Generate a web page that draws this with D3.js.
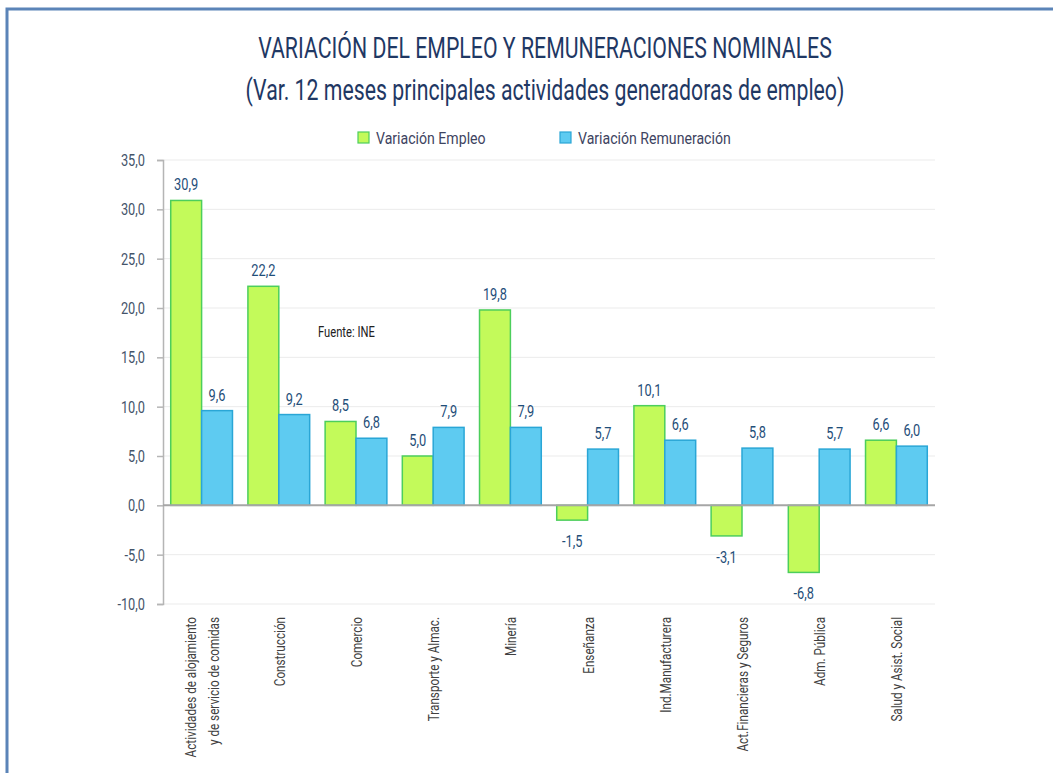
<!DOCTYPE html>
<html>
<head>
<meta charset="utf-8">
<script src="https://cdn.jsdelivr.net/npm/d3@7"></script>
<style>
  body { margin: 0; background: #fff; }
  svg text { font-family: Roboto, "Noto Sans", sans-serif; }
</style>
</head>
<body>
<svg id="chart" width="1053" height="773"></svg>
<script>
// categories and series values
var categories = [
  ["Actividades de alojamiento", "y de servicio de comidas"],
  ["Construcción"],
  ["Comercio"],
  ["Transporte y Almac."],
  ["Minería"],
  ["Enseñanza"],
  ["Ind.Manufacturera"],
  ["Act.Financieras y Seguros"],
  ["Adm. Pública"],
  ["Salud y Asist. Social"]
];
var empleo = [30.9, 22.2, 8.5, 5.0, 19.8, -1.5, 10.1, -3.1, -6.8, 6.6];
var remuneracion = [9.6, 9.2, 6.8, 7.9, 7.9, 5.7, 6.6, 5.8, 5.7, 6.0];
var yTicks = [-10, -5, 0, 5, 10, 15, 20, 25, 30, 35];
var seriesNames = ["Variación Empleo", "Variación Remuneración"];
var titleLines = ["VARIACIÓN DEL EMPLEO Y REMUNERACIONES NOMINALES",
                  "(Var. 12 meses principales actividades generadoras de empleo)"];

var colors = {
  fill: ["#c3fa5a", "#5ecbf1"],
  stroke: ["#4cce5c", "#2aa6d6"]
};

var svg = d3.select("#chart");
var fmt = function(v){ return d3.format(".1f")(v).replace(".", ",").replace("\u2212", "-"); };

// narrow text helper (the source uses a condensed face)
function squeeze(sel, x, y, s, rot){
  sel.attr("transform", "translate(" + x + "," + y + ")" + (rot ? " rotate(" + rot + ")" : "") + " scale(" + s + ",1)");
  return sel;
}

// frame
svg.append("path")
  .attr("d", "M7,773 L7,9 L1053,9")
  .attr("fill", "none")
  .attr("stroke", "#5b84b8")
  .attr("stroke-width", 3);

// title
titleLines.forEach(function(t, i){
  squeeze(svg.append("text"), 545, 58 + i * 42, 0.71)
    .attr("text-anchor", "middle")
    .attr("font-size", 30)
    .attr("fill", "#1f3864")
    .text(t);
});

var margin = {left: 163, right: 935, top: 160, bottom: 604};

var x0 = d3.scaleBand()
  .domain(d3.range(categories.length))
  .range([margin.left, margin.right])
  .paddingInner(0.2)
  .paddingOuter(0.1);
var x1 = d3.scaleBand()
  .domain([0, 1])
  .range([0, x0.bandwidth()]);
var y = d3.scaleLinear()
  .domain([-10, 35])
  .range([margin.bottom, margin.top]);

// gridlines
svg.append("g")
  .selectAll("line")
  .data(yTicks.filter(function(d){ return d !== 0; }))
  .join("line")
  .attr("x1", margin.left)
  .attr("x2", margin.right)
  .attr("y1", function(d){ return y(d); })
  .attr("y2", function(d){ return y(d); })
  .attr("stroke", "#ebebeb")
  .attr("stroke-width", 1);

// y axis
var yAxis = svg.append("g")
  .attr("transform", "translate(" + margin.left + ",0)")
  .call(d3.axisLeft(y).tickValues(yTicks).tickSize(6).tickFormat(function(){ return ""; }));
yAxis.select(".domain").attr("stroke", "#b5b5b5").attr("stroke-width", 1.5);
yAxis.selectAll(".tick line").attr("stroke", "#b5b5b5").attr("stroke-width", 1.5);

svg.append("g")
  .selectAll("text")
  .data(yTicks)
  .join("text")
  .each(function(d){ squeeze(d3.select(this), 145, y(d) + 6, 0.8); })
  .attr("text-anchor", "end")
  .attr("font-size", 16)
  .attr("fill", "#44546a")
  .text(function(d){ return fmt(d); });

// bars
var series = [empleo, remuneracion];
series.forEach(function(vals, s){
  var g = svg.append("g");
  g.selectAll("rect")
    .data(vals)
    .join("rect")
    .attr("x", function(d, i){ return x0(i) + x1(s); })
    .attr("width", x1.bandwidth())
    .attr("y", function(d){ return y(Math.max(0, d)); })
    .attr("height", function(d){ return Math.abs(y(d) - y(0)); })
    .attr("fill", colors.fill[s])
    .attr("stroke", colors.stroke[s])
    .attr("stroke-width", 1.5);

  g.selectAll("text")
    .data(vals)
    .join("text")
    .each(function(d, i){
      var cx = x0(i) + x1(s) + x1.bandwidth() / 2;
      var cy = d >= 0 ? y(d) - 10 : y(d) + 27;
      squeeze(d3.select(this), cx, cy, 0.8);
    })
    .attr("text-anchor", "middle")
    .attr("font-size", 16)
    .attr("fill", "#1f4e79")
    .text(function(d){ return fmt(d); });
});

// zero line
svg.append("line")
  .attr("x1", margin.left)
  .attr("x2", margin.right)
  .attr("y1", y(0))
  .attr("y2", y(0))
  .attr("stroke", "#a6a6a6")
  .attr("stroke-width", 2);

// category labels
categories.forEach(function(lines, i){
  var cx = x0(i) + x0.bandwidth() / 2;
  lines.forEach(function(t, k){
    var off = (k - (lines.length - 1) / 2) * 23;
    squeeze(svg.append("text"), cx + off + 6, margin.bottom + 13, 0.78, -90)
      .attr("text-anchor", "end")
      .attr("font-size", 15)
      .attr("fill", "#404040")
      .text(t);
  });
});

// legend
var legendX = [358, 560];
seriesNames.forEach(function(n, s){
  svg.append("rect")
    .attr("x", legendX[s])
    .attr("y", 132)
    .attr("width", 11)
    .attr("height", 11)
    .attr("fill", colors.fill[s])
    .attr("stroke", colors.stroke[s])
    .attr("stroke-width", 1.2);
  squeeze(svg.append("text"), legendX[s] + 18, 144, 0.83)
    .attr("font-size", 17)
    .attr("fill", "#3e4461")
    .text(n);
});

// source note
squeeze(svg.append("text"), 318, 337, 0.8)
  .attr("font-size", 14)
  .attr("fill", "#222")
  .text("Fuente: INE");
</script>
</body>
</html>
